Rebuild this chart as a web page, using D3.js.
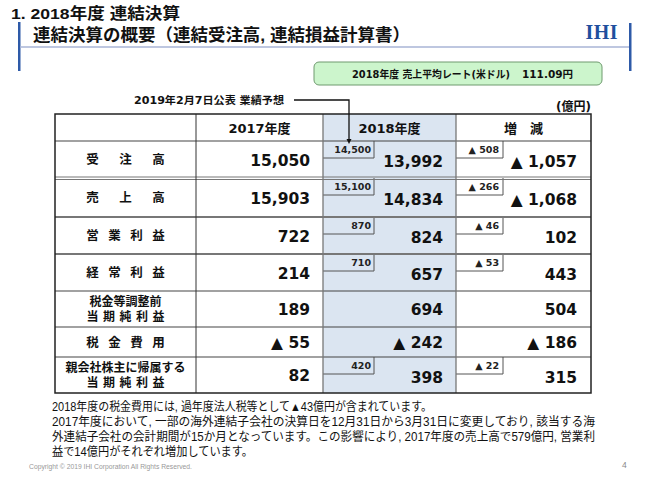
<!DOCTYPE html>
<html><head><meta charset="utf-8">
<script src="https://cdn.jsdelivr.net/npm/d3@7"></script>
<style>
body{margin:0;background:#fff;}
svg{display:block;}
</style></head>
<body><svg id="c" width="650" height="484"></svg>
<script>
// ---- data ----
const rowLabels = [["受 注 高"],["売 上 高"],["営 業 利 益"],["経 常 利 益"],["税金等調整前","当 期 純 利 益"],["税 金 費 用"],["親会社株主に帰属する","当 期 純 利 益"]];
const columns = ["2017年度","2018年度","増　減"];
const fy2017 = [15050, 15903, 722, 214, 189, -55, 82];
const fy2018 = [13992, 14834, 824, 657, 694, -242, 398];
const change = [-1057, -1068, 102, 443, 504, -186, 315];
const forecast = [14500, 15100, 870, 710, null, null, 420];
const forecastDiff = [-508, -266, -46, -53, null, null, -22];
const rateLabel = "2018年度  売上平均レート(米ドル)";
const rateValue = "111.09円";

// ---- layout ----
const svg = d3.select("#c");
const num = "'DejaVu Sans','Noto Sans CJK JP',sans-serif";
const jp = "'Liberation Sans','Noto Sans CJK JP',sans-serif";
const fmt = v => v < 0 ? "▲ " + d3.format(",")(-v) : d3.format(",")(v);

// header decoration
svg.append("rect").attr("x",18).attr("y",22).attr("width",2.5).attr("height",49).attr("fill","#2e5aa8");
svg.append("rect").attr("x",629).attr("y",23).attr("width",2.5).attr("height",48).attr("fill","#2e5aa8");
svg.append("line").attr("x1",20).attr("x2",629).attr("y1",47).attr("y2",47).attr("stroke","#a9b4d6").attr("stroke-width",1.5);
svg.append("text").attr("x",11).attr("y",19).attr("font-family",jp).attr("font-weight","bold").attr("font-size",15.5).attr("fill","#111")
  .attr("textLength",169).attr("lengthAdjust","spacingAndGlyphs").text("1. 2018年度  連結決算");
svg.append("text").attr("x",33).attr("y",41).attr("font-family",jp).attr("font-weight","bold").attr("font-size",17).attr("fill","#111")
  .attr("textLength",377).attr("lengthAdjust","spacingAndGlyphs").text("連結決算の概要（連結受注高, 連結損益計算書）");
svg.append("text").attr("x",618).attr("y",39).attr("text-anchor","end").attr("font-family","'Liberation Serif',serif").attr("font-weight","bold").attr("font-size",20).attr("fill","#1f4f9e").attr("letter-spacing",0.5).text("IHI");

// rate box
svg.append("rect").attr("x",314).attr("y",62).attr("width",288).attr("height",23).attr("rx",5).attr("fill","#ccf5cc").attr("stroke","#6f9a6f").attr("stroke-width",1);
svg.append("text").attr("x",352).attr("y",78).attr("font-family",num).attr("font-weight","bold").attr("font-size",10.5).attr("fill","#111")
  .attr("textLength",158).attr("lengthAdjust","spacingAndGlyphs").text(rateLabel);
svg.append("text").attr("x",573).attr("y",78).attr("text-anchor","end").attr("font-family",num).attr("font-weight","bold").attr("font-size",10.5).attr("fill","#111").text(rateValue);

// table geometry
const colX = [55,196,323,456,591];
const rowY = [114,141,178,217,254,291,327,357,393];
const y = d3.scaleOrdinal().domain(d3.range(rowY.length)).range(rowY);

// 2018 column fill
svg.append("rect").attr("x",colX[2]).attr("y",y(0)).attr("width",colX[3]-colX[2]).attr("height",y(8)-y(0)).attr("fill","#dbe5f1");

// small forecast boxes
const g = svg.append("g");
forecast.forEach((v,i)=>{
  if(v===null) return;
  const top = y(i+1);
  g.append("path").attr("d",`M${colX[2]},${top+17}H${colX[2]+51}V${top}`).attr("fill","none").attr("stroke","#555").attr("stroke-width",1);
  g.append("text").attr("x",colX[2]+48).attr("y",top+12).attr("text-anchor","end").attr("font-family",num).attr("font-weight","bold").attr("font-size",9.5).attr("fill","#222").text(fmt(v));
});
forecastDiff.forEach((v,i)=>{
  if(v===null) return;
  const top = y(i+1);
  g.append("path").attr("d",`M${colX[3]},${top+17}H${colX[3]+47}V${top}`).attr("fill","none").attr("stroke","#555").attr("stroke-width",1);
  g.append("text").attr("x",colX[3]+43).attr("y",top+12).attr("text-anchor","end").attr("font-family",num).attr("font-weight","bold").attr("font-size",9.5).attr("fill","#222").text(fmt(v));
});

// grid lines
const lineColor = "#444";
[1,2,3,4,5,6,7].forEach(k=>{
  const yy = y(k);
  if(k===2){
    svg.append("line").attr("x1",colX[0]).attr("x2",colX[4]).attr("y1",yy-1).attr("y2",yy-1).attr("stroke","#777").attr("stroke-width",1.2);
    svg.append("line").attr("x1",colX[0]).attr("x2",colX[4]).attr("y1",yy+1.5).attr("y2",yy+1.5).attr("stroke","#777").attr("stroke-width",1.2);
  } else if(k===3 || k===4){
    svg.append("line").attr("x1",colX[0]).attr("x2",colX[4]).attr("y1",yy).attr("y2",yy).attr("stroke","#777").attr("stroke-width",2);
  } else {
    svg.append("line").attr("x1",colX[0]).attr("x2",colX[4]).attr("y1",yy).attr("y2",yy).attr("stroke",lineColor).attr("stroke-width",1.2);
  }
});
[1,2,3].forEach(c=>{
  svg.append("line").attr("x1",colX[c]).attr("x2",colX[c]).attr("y1",y(0)).attr("y2",y(8)).attr("stroke",c===1?"#333":"#777").attr("stroke-width",c===1?1:1.3);
});
svg.append("rect").attr("x",colX[0]).attr("y",y(0)).attr("width",colX[4]-colX[0]).attr("height",y(8)-y(0)).attr("fill","none").attr("stroke","#222").attr("stroke-width",1.5);

// header texts
columns.forEach((c,i)=>{
  svg.append("text").attr("x",(colX[i+1]+colX[i+2])/2).attr("y",(y(0)+y(1))/2+5).attr("text-anchor","middle").attr("font-family",num).attr("font-weight","bold").attr("font-size",13).attr("fill","#111").text(c);
});

// row labels: spaced labels are spread across a fixed span, others centred
const labX0 = 92.5, labX1 = 158.5, labMid = (colX[0]+colX[1])/2;
rowLabels.forEach((lines,i)=>{
  const cy = (y(i+1)+y(i+2))/2;
  lines.forEach((l,j)=>{
    const ly = cy + 4.5 + (j-(lines.length-1)/2)*15;
    const fs = lines.length>1 ? 12 : 12.5;
    if(l.includes(" ")){
      const chars = l.split(" ");
      const step = (labX1-labX0)/(chars.length-1);
      chars.forEach((ch,k)=>{
        svg.append("text").attr("x",labX0+k*step).attr("y",ly).attr("text-anchor","middle").attr("font-family",jp).attr("font-weight","bold").attr("font-size",fs).attr("fill","#111").text(ch);
      });
    } else {
      svg.append("text").attr("x",labMid).attr("y",ly).attr("text-anchor","middle").attr("font-family",jp).attr("font-weight","bold").attr("font-size",fs).attr("fill","#111").text(l);
    }
  });
});

// values
const valueCol = (arr, xr, extraDy) => arr.forEach((v,i)=>{
  const cy = (y(i+1)+y(i+2))/2;
  svg.append("text").attr("x",xr).attr("y",cy+6+(extraDy[i]||0)).attr("text-anchor","end").attr("font-family",num).attr("font-weight","bold").attr("font-size",15.5).attr("fill","#111").text(fmt(v));
});
valueCol(fy2017, 310, []);
valueCol(fy2018, 443, forecast.map(v=>v===null?0:1.5));
valueCol(change, 577, forecastDiff.map(v=>v===null?0:1.5));

// forecast annotation
svg.append("text").attr("x",134).attr("y",104).attr("font-family",num).attr("font-weight","bold").attr("font-size",10.5).attr("fill","#111")
  .attr("textLength",150).attr("lengthAdjust","spacingAndGlyphs").text("2019年2月7日公表  業績予想");
svg.append("path").attr("d","M294,100H349V141").attr("fill","none").attr("stroke","#111").attr("stroke-width",1.3);
svg.append("path").attr("d","M346.5,139L349,144L351.5,139Z").attr("fill","#111");
svg.append("text").attr("x",591).attr("y",111).attr("text-anchor","end").attr("font-family",num).attr("font-weight","bold").attr("font-size",12).attr("fill","#111").text("(億円)");

// footnotes
const notes = ["2018年度の税金費用には, 過年度法人税等として▲43億円が含まれています。",
"2017年度において, 一部の海外連結子会社の決算日を12月31日から3月31日に変更しており, 該当する海",
"外連結子会社の会計期間が15か月となっています。この影響により, 2017年度の売上高で579億円, 営業利",
"益で14億円がそれぞれ増加しています。"];
const noteLen = [380, 543, 543, 201];
notes.forEach((n,i)=>{
  svg.append("text").attr("x",52).attr("y",411+i*15).attr("font-family",jp).attr("font-size",12).attr("fill","#111")
    .attr("textLength",noteLen[i]).attr("lengthAdjust","spacingAndGlyphs").text(n);
});
svg.append("text").attr("x",29).attr("y",469).attr("font-family",jp).attr("font-size",6.5).attr("fill","#999")
  .attr("textLength",163).attr("lengthAdjust","spacingAndGlyphs").text("Copyright © 2019 IHI Corporation All Rights Reserved.");
svg.append("text").attr("x",622).attr("y",468).attr("font-family",jp).attr("font-size",8.5).attr("fill","#888").text("4");
</script></body></html>
